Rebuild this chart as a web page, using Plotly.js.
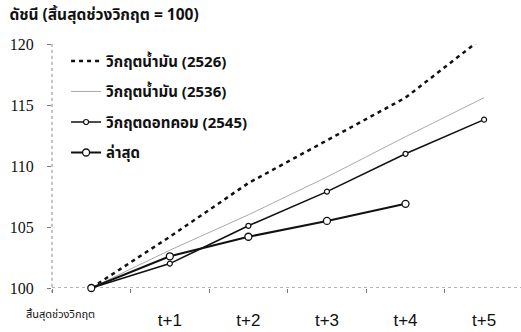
<!DOCTYPE html>
<html>
<head>
<meta charset="utf-8">
<script src="https://cdn.plot.ly/plotly-3.0.1.min.js"></script>
<style>html,body{margin:0;padding:0;background:#fff;}#chart{width:521px;height:332px;}</style>
</head>
<body>
<div id="chart"></div>
<script>
// Periods after the end of each crisis
const periods = [0, 1, 2, 3, 4, 5];
const categories = ['สิ้นสุดช่วงวิกฤต', 't+1', 't+2', 't+3', 't+4', 't+5'];
const seriesNames = ['วิกฤตน้ำมัน (2526)', 'วิกฤตน้ำมัน (2536)', 'วิกฤตดอทคอม (2545)', 'ล่าสุด'];

// Index values (end of crisis = 100)
const oil1983 = [100, 104.2, 108.6, 112.1, 115.6, 120.6];
const oil1993 = [100, 103.1, 106.0, 109.1, 112.4, 115.6];
const dotcom2002 = [100, 102.0, 105.1, 107.9, 111.0, 113.8];
const latest = [100, 102.6, 104.2, 105.5, 106.9];

const yTicks = [100, 105, 110, 115, 120];
const titleText = 'ดัชนี (สิ้นสุดช่วงวิกฤต = 100)';

const thaiFont = '"Noto Sans Thai", "Noto Sans", "DejaVu Sans", sans-serif';

const traces = [
  {x: periods, y: oil1983, name: seriesNames[0], mode: 'lines', legendgroup: 'a',
   line: {color: '#111', width: 2.5, dash: '4px,4px'}},
  {x: periods, y: oil1993, name: seriesNames[1], mode: 'lines', legendgroup: 'b',
   line: {color: '#aaaaaa', width: 1}},
  {x: periods, y: dotcom2002, name: seriesNames[2], mode: 'lines+markers', legendgroup: 'c', cliponaxis: false,
   line: {color: '#111', width: 1.6},
   marker: {symbol: 'circle', size: 5, color: '#fff', line: {color: '#111', width: 1.2}}},
  {x: periods.slice(0, latest.length), y: latest, name: seriesNames[3], mode: 'lines+markers', legendgroup: 'd', cliponaxis: false,
   line: {color: '#111', width: 2},
   marker: {symbol: 'circle', size: 7, color: '#fff', line: {color: '#111', width: 1.3}}}
];

const layout = {
  width: 521, height: 332,
  margin: {l: 52, r: 0, t: 44, b: 44},
  paper_bgcolor: '#fff', plot_bgcolor: '#fff',
  showlegend: true,
  title: {text: '<b>' + titleText + '</b>', x: 0.018, xref: 'container', xanchor: 'left',
          y: 1 - 15/332, yref: 'container', yanchor: 'middle',
          font: {family: thaiFont, size: 15.5, color: '#111'}},
  xaxis: {
    range: [-0.5, 5.47], showgrid: false, zeroline: false, showline: false,
    tickmode: 'array', tickvals: periods.slice(1), ticktext: categories.slice(1),
    ticks: '', ticklabelstandoff: 20,
    tickfont: {family: '"Liberation Sans", Arial, sans-serif', size: 17, color: '#111'},
    minor: {tickmode: 'linear', tick0: 0.5, dtick: 1, ticks: 'outside', ticklen: 4, tickcolor: '#777', tickwidth: 1}
  },
  yaxis: {
    range: [100, 120], showgrid: false, zeroline: false, showline: false,
    tickmode: 'array', tickvals: yTicks, ticktext: yTicks.map(String),
    ticks: 'outside', ticklen: 4, tickcolor: '#777', ticklabelstandoff: 10,
    tickfont: {family: '"Liberation Serif", "Times New Roman", serif', size: 16, color: '#111'}
  },
  legend: {x: 0.03, xanchor: 'left', y: 0.997, yanchor: 'top', bgcolor: 'rgba(0,0,0,0)',
           traceorder: 'grouped', tracegroupgap: 8,
           font: {family: thaiFont, size: 15, color: '#111', weight: 'bold'}},
  shapes: [
    {type: 'line', xref: 'paper', yref: 'y', x0: 0, x1: 1, y0: 100, y1: 100,
     line: {color: '#666', width: 1, dash: 'dot'}, layer: 'below'},
    {type: 'line', xref: 'paper', yref: 'paper', x0: 0, x1: 0, y0: -0.02, y1: 1,
     line: {color: '#888', width: 1, dash: 'dot'}, layer: 'below'}
  ],
  annotations: [
    {text: categories[0], x: 0, xref: 'x', xanchor: 'right', xshift: 6,
     y: -0.11, yref: 'paper', yanchor: 'middle', showarrow: false,
     font: {family: thaiFont, size: 11, color: '#111'}}
  ]
};

Plotly.newPlot('chart', traces, layout, {displayModeBar: false, staticPlot: true});
</script>
</body>
</html>
